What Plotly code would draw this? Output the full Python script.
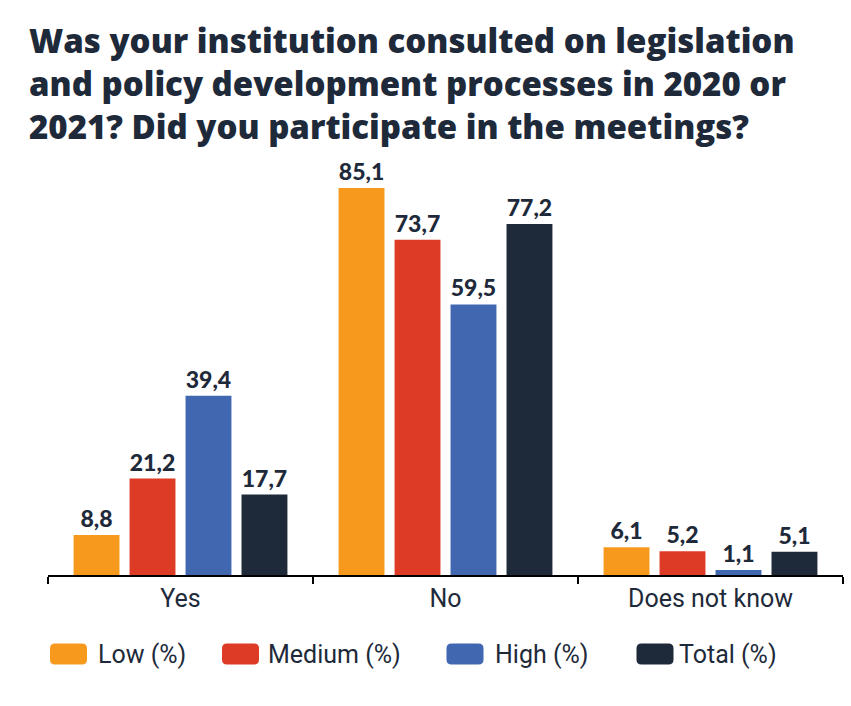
import plotly.graph_objects as go

categories = ["Yes", "No", "Does not know"]
series_names = ["Low (%)", "Medium (%)", "High (%)", "Total (%)"]
low = [8.8, 85.1, 6.1]
medium = [21.2, 73.7, 5.2]
high = [39.4, 59.5, 1.1]
total = [17.7, 77.2, 5.1]
colors = ["#F7991C", "#DE3B26", "#4067B0", "#1E2A3A"]

NAVY = "#1E2A3A"
W, H = 851, 706
ML, MR, MT, MB = 48, 8, 143, 131
PW = W - ML - MR
PH = H - MT - MB

fig = go.Figure()
for name, vals, col in zip(series_names, [low, medium, high, total], colors):
    fig.add_trace(go.Bar(
        x=categories, y=vals, name=name, marker_color=col,
        marker_line_width=0,
        texttemplate="%{y:.1f}", textposition="outside",
        textfont=dict(family="Lato", size=23, color=NAVY, weight=900),
        cliponaxis=False, showlegend=False,
    ))

def px_to_paper_x(px):
    return (px - ML) / PW

def px_to_paper_y(py):
    return (H - MB - py) / PH

legend_swatch_x = [68.5, 240.5, 465, 655]
legend_text_x = [96, 266, 493, 677]
legend_y = 654
shapes = []
annotations = []
r = 5
hw, hh = 18.5, 10.5
path = (f"M {-hw+r},{-hh} L {hw-r},{-hh} Q {hw},{-hh} {hw},{-hh+r} L {hw},{hh-r} "
        f"Q {hw},{hh} {hw-r},{hh} L {-hw+r},{hh} Q {-hw},{hh} {-hw},{hh-r} "
        f"L {-hw},{-hh+r} Q {-hw},{-hh} {-hw+r},{-hh} Z")
for name, col, sx, tx in zip(series_names, colors, legend_swatch_x, legend_text_x):
    shapes.append(dict(
        type="path", xref="paper", yref="paper",
        xsizemode="pixel", ysizemode="pixel",
        xanchor=px_to_paper_x(sx), yanchor=px_to_paper_y(legend_y),
        path=path, fillcolor=col, line=dict(width=0),
    ))
    annotations.append(dict(
        text=name, xref="paper", yref="paper",
        x=px_to_paper_x(tx), y=px_to_paper_y(legend_y),
        xanchor="left", yanchor="middle", showarrow=False,
        font=dict(family="Roboto", size=25, color=NAVY),
    ))

annotations.append(dict(
    text="Was your institution consulted on legislation<br>"
         "and policy development processes in 2020 or<br>"
         "2021? Did you participate in the meetings?",
    xref="paper", yref="paper",
    x=px_to_paper_x(27), y=px_to_paper_y(16),
    xanchor="left", yanchor="top", align="left", showarrow=False,
    font=dict(family="Open Sans", size=33, color=NAVY, weight=800),
))

fig.update_layout(
    width=W, height=H,
    margin=dict(l=ML, r=MR, t=MT, b=MB),
    paper_bgcolor="white", plot_bgcolor="white",
    separators=",.",
    barmode="group", bargap=0.155, bargroupgap=0.18,
    xaxis=dict(
        showline=True, linecolor="black", linewidth=2,
        ticks="outside", tickson="boundaries", ticklen=7, tickwidth=2,
        tickcolor="black",
        tickfont=dict(family="Roboto", size=25, color=NAVY),
        showgrid=False,
    ),
    yaxis=dict(range=[0, 95], visible=False, showgrid=False, zeroline=False),
    shapes=shapes,
    annotations=annotations,
)

fig.write_html("out.html")
